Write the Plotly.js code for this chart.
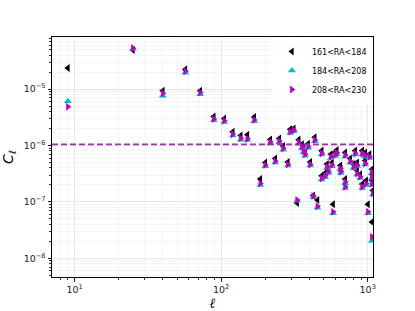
<!DOCTYPE html>
<html>
<head>
<meta charset="utf-8">
<script src="https://cdn.plot.ly/plotly-3.0.1.min.js"></script>
<style>html,body{margin:0;padding:0;background:#fff;}#plot{width:415px;height:311px;}</style>
</head>
<body>
<div id="plot"></div>
<script>
// Multipole bins (shared by the three RA slices)
const ell = [9, 25, 40, 57, 72, 89, 105, 120, 136, 151, 168, 185, 200, 216, 234, 249, 265, 285, 296, 313,
  330, 338, 356, 365, 374, 392, 405, 425, 435, 454, 485, 485, 512, 527, 540, 560, 570, 580, 600, 615,
  650, 655, 702, 702, 702, 759, 800, 821, 847, 847, 888, 917, 917, 961, 961, 975, 1003, 1028, 1068, 1068,
  1068, 1068, 1084];

// 161<RA<184
const clRA1 = [2.35e-5, 4.9e-5, 9.3e-6, 2.23e-5, 9.3e-6, 3.25e-6, 3.0e-6, 1.75e-6, 1.5e-6, 1.55e-6,
  3.2e-6, 2.55e-7, 5.0e-7, 1.28e-6, 5.9e-7, 1.33e-6, 9.8e-7, 5.1e-7, 1.93e-6, 2.0e-6,
  9.6e-8, 1.27e-6, 1.05e-6, 8.9e-7, 7.8e-7, 1.07e-6, 5.1e-7, 1.3e-7, 1.4e-6, 1.08e-7,
  8.1e-7, 2.9e-7, 3.25e-7, 4.7e-7, 3.8e-7, 7.0e-7, 5.0e-7, 9.1e-8, 7.6e-7, 8.3e-7,
  4.4e-7, 3.8e-7, 7.5e-7, 2.55e-7, 2.07e-7, 5.9e-7, 4.7e-7, 8.1e-7, 5.0e-7, 3.6e-7,
  3.1e-7, 8.1e-7, 2.07e-7, 7.5e-7, 5.4e-7, 2.4e-7, 9.1e-8, 7.0e-7, 3.8e-7, 3.1e-7,
  2.4e-7, 4.4e-8, 1.6e-7];

// 184<RA<208
const clRA2 = [6.1e-6, 5.1e-5, 7.6e-6, 1.94e-5, 8.1e-6, 2.8e-6, 2.6e-6, 1.5e-6, 1.27e-6, 1.25e-6,
  2.7e-6, 2.0e-7, 4.3e-7, 1.1e-6, 5.0e-7, 1.14e-6, 8.4e-7, 4.4e-7, 1.66e-6, 1.78e-6,
  1.05e-7, 1.08e-6, 9.0e-7, 7.6e-7, 6.6e-7, 9.1e-7, 4.4e-7, 1.24e-7, 1.19e-6, 7.9e-8,
  6.9e-7, 2.5e-7, 2.75e-7, 4.0e-7, 3.25e-7, 6.0e-7, 4.3e-7, 6.3e-8, 6.5e-7, 7.0e-7,
  3.75e-7, 3.25e-7, 6.4e-7, 2.15e-7, 1.76e-7, 5.0e-7, 4.0e-7, 6.9e-7, 4.3e-7, 3.05e-7,
  2.65e-7, 6.9e-7, 1.76e-7, 6.4e-7, 4.6e-7, 2.0e-7, 6.3e-8, 6.0e-7, 3.25e-7, 2.65e-7,
  2.0e-7, 2.04e-8, 1.36e-7];

// 208<RA<230
const clRA3 = [4.85e-6, 5.3e-5, 8.4e-6, 2.08e-5, 8.7e-6, 2.94e-6, 2.74e-6, 1.59e-6, 1.34e-6, 1.31e-6,
  2.82e-6, 2.13e-7, 4.5e-7, 1.16e-6, 5.3e-7, 1.2e-6, 8.9e-7, 4.6e-7, 1.75e-6, 1.87e-6,
  1.08e-7, 1.14e-6, 9.5e-7, 8.0e-7, 7.0e-7, 9.6e-7, 4.6e-7, 1.27e-7, 1.25e-6, 8.4e-8,
  7.25e-7, 2.61e-7, 2.9e-7, 4.19e-7, 3.42e-7, 6.3e-7, 4.5e-7, 6.7e-8, 6.8e-7, 7.4e-7,
  3.93e-7, 3.42e-7, 6.76e-7, 2.27e-7, 1.85e-7, 5.3e-7, 4.19e-7, 7.25e-7, 4.49e-7, 3.2e-7,
  2.79e-7, 7.25e-7, 1.85e-7, 6.76e-7, 4.82e-7, 2.13e-7, 6.7e-8, 6.3e-7, 3.42e-7, 2.79e-7,
  2.13e-7, 2.4e-8, 1.43e-7];

const seriesNames = ['161<RA<184', '184<RA<208', '208<RA<230'];
const noiseLevel = 1.05e-6;

// Tick labels
const xTickVals = [10, 100, 1000];
const xTickText = ['10<sup>1</sup>', '10<sup>2</sup>', '10<sup>3</sup>'];
const yTickVals = [1e-8, 1e-7, 1e-6, 1e-5];
const yTickText = ['10<sup>−8</sup>', '10<sup>−7</sup>', '10<sup>−6</sup>', '10<sup>−5</sup>'];

const mk = (y, name, symbol, color) => ({
  x: ell, y: y, name: name, type: 'scatter', mode: 'markers',
  marker: {symbol: symbol, size: 7, color: color, line: {width: 0}}
});

const traces = [
  mk(clRA1, seriesNames[0], 'triangle-left', '#000000'),
  mk(clRA2, seriesNames[1], 'triangle-up', '#00bfbf'),
  mk(clRA3, seriesNames[2], 'triangle-right', '#bf00bf')
];

const axisCommon = {
  type: 'log', showline: true, linecolor: '#000', linewidth: 1, mirror: true,
  ticks: 'outside', ticklen: 3.5, tickwidth: 0.8, tickcolor: '#000',
  showgrid: true, gridcolor: '#e3e3e3', gridwidth: 0.8, zeroline: false,
  tickmode: 'array',
  tickfont: {family: 'DejaVu Sans', size: 9.5, color: '#222'},
  minor: {ticks: 'outside', ticklen: 2, tickcolor: '#000', showgrid: true, gridcolor: '#eeeeee', gridwidth: 0.6, dtick: 'D1'}
};

const layout = {
  width: 415, height: 311,
  margin: {l: 52, r: 42, t: 37, b: 34},
  paper_bgcolor: '#fff', plot_bgcolor: '#fff',
  font: {family: 'DejaVu Sans', color: '#000'},
  showlegend: true,
  legend: {x: 0.685, y: 1.0, xanchor: 'left', yanchor: 'top', bgcolor: 'rgba(255,255,255,0.8)',
    borderwidth: 0, font: {family: 'DejaVu Sans', size: 8, color: '#000'}, itemwidth: 30},
  xaxis: Object.assign({}, axisCommon, {range: [0.846, 3.036], tickvals: xTickVals, ticktext: xTickText,
    title: {text: '<i>ℓ</i>', font: {family: 'DejaVu Serif', size: 14}, standoff: 2}}),
  yaxis: Object.assign({}, axisCommon, {range: [-8.33, -4.078], tickvals: yTickVals, ticktext: yTickText,
    title: {text: '<i>C</i><sub><i>ℓ</i></sub>', font: {family: 'DejaVu Sans', size: 14}, standoff: 6}}),
  shapes: [{type: 'line', xref: 'paper', x0: 0, x1: 1, yref: 'y', y0: noiseLevel, y1: noiseLevel,
    line: {color: '#9b2fae', width: 1.8, dash: '6px,3px'}, layer: 'above'}]
};

Plotly.newPlot('plot', traces, layout, {displayModeBar: false, staticPlot: true});
</script>
</body>
</html>
